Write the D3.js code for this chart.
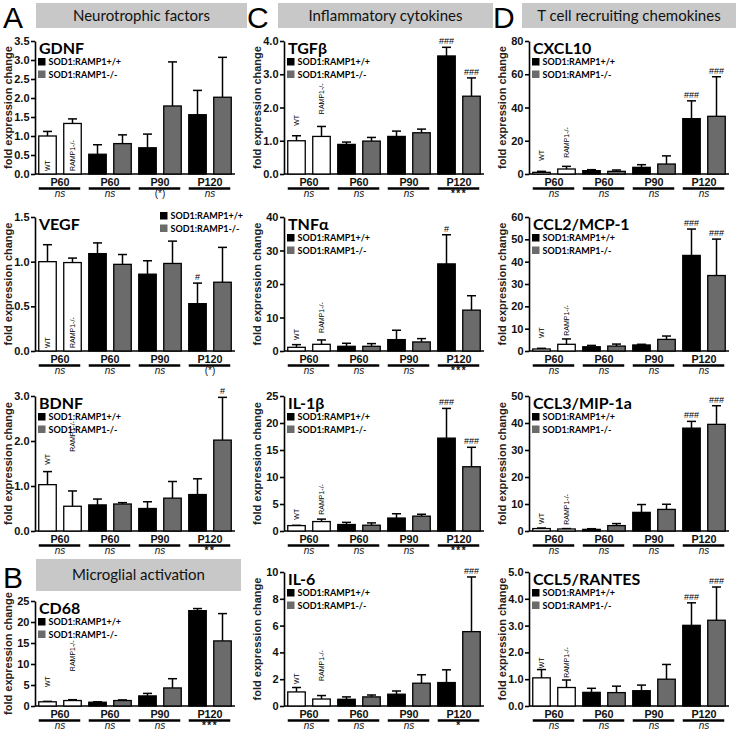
<!DOCTYPE html>
<html><head><meta charset="utf-8">
<script src="https://cdn.jsdelivr.net/npm/d3@7"></script>
<style>body{margin:0;background:#fff}svg{display:block}</style>
</head><body><svg id="c" width="738" height="730"></svg>
<script>
// ---------------- data ----------------
const barKinds = ["wt","wt","pos","neg","pos","neg","pos","neg"];
const groupLabels = ["P60","P60","P90","P120"];
const seriesNames = ["SOD1:RAMP1+/+","SOD1:RAMP1-/-"];
const ctrlNames = ["WT","RAMP1-/-"];
const headers = ["Neurotrophic factors","Microglial activation","Inflammatory cytokines","T cell recruiting chemokines"];
const panelLetters = ["A","B","C","D"];

const gdnfMean = [1.00,1.33,0.52,0.80,0.69,1.79,1.56,2.02];
const gdnfSem  = [0.12,0.12,0.25,0.23,0.36,1.16,0.64,1.05];
const gdnfHash = ["","","","","","","",""];
const gdnfSig  = ["ns","ns","(*)","ns"];

const vegfMean = [1.00,0.99,1.09,0.97,0.86,0.98,0.53,0.77];
const vegfSem  = [0.19,0.05,0.12,0.11,0.15,0.25,0.23,0.39];
const vegfHash = ["","","","","","","#",""];
const vegfSig  = ["ns","ns","ns","(*)"];

const bdnfMean = [1.03,0.55,0.58,0.60,0.50,0.73,0.81,2.02];
const bdnfSem  = [0.29,0.34,0.13,0.03,0.15,0.37,0.35,0.95];
const bdnfHash = ["","","","","","","","#"];
const bdnfSig  = ["ns","ns","ns","**"];

const cd68Mean = [1.0,1.3,0.9,1.3,2.4,4.3,22.7,15.5];
const cd68Sem  = [0.1,0.2,0.1,0.15,0.6,2.2,0.5,6.5];
const cd68Hash = ["","","","","","","",""];
const cd68Sig  = ["ns","ns","ns","***"];

const tgfbMean = [1.00,1.13,0.89,0.99,1.13,1.24,3.55,2.34];
const tgfbSem  = [0.15,0.30,0.07,0.11,0.16,0.11,0.26,0.55];
const tgfbHash = ["","","","","","","###","###"];
const tgfbSig  = ["ns","ns","ns","***"];

const tnfaMean = [1.1,2.0,1.4,1.4,3.4,2.7,26.0,12.2];
const tnfaSem  = [0.8,1.3,0.9,0.8,2.8,1.0,8.7,4.3];
const tnfaHash = ["","","","","","","#",""];
const tnfaSig  = ["ns","ns","ns","***"];

const il1bMean = [1.0,1.75,1.2,1.07,2.4,2.75,17.2,11.9];
const il1bSem  = [0.05,0.45,0.4,0.43,0.8,0.35,5.5,3.6];
const il1bHash = ["","","","","","","###","###"];
const il1bSig  = ["ns","ns","ns","***"];

const il6Mean = [1.05,0.52,0.50,0.68,0.88,1.70,1.75,5.55];
const il6Sem  = [0.33,0.26,0.18,0.14,0.24,0.63,0.95,4.08];
const il6Hash = ["","","","","","","","###"];
const il6Sig  = ["ns","ns","ns","*"];

const cxcl10Mean = [1.0,3.0,2.0,1.6,4.0,6.0,33.3,34.7];
const cxcl10Sem  = [0.6,1.6,0.6,0.8,1.6,4.9,10.7,23.8];
const cxcl10Hash = ["","","","","","","###","###"];
const cxcl10Sig  = ["ns","ns","ns","ns"];

const ccl2Mean = [0.9,3.0,1.9,2.2,2.7,5.2,42.8,33.8];
const ccl2Sem  = [0.3,2.4,0.6,0.9,0.3,1.5,11.8,16.3];
const ccl2Hash = ["","","","","","","###","###"];
const ccl2Sig  = ["ns","ns","ns","ns"];

const ccl3Mean = [0.9,0.75,0.6,2.0,6.9,8.0,38.1,39.5];
const ccl3Sem  = [0.2,0.15,0.25,0.75,2.9,1.9,2.5,6.9];
const ccl3Hash = ["","","","","","","###","###"];
const ccl3Sig  = ["ns","ns","ns","ns"];

const ccl5Mean = [1.05,0.69,0.51,0.50,0.57,1.00,3.01,3.20];
const ccl5Sem  = [0.31,0.28,0.15,0.24,0.21,0.55,0.84,1.24];
const ccl5Hash = ["","","","","","","###","###"];
const ccl5Sig  = ["ns","ns","ns","ns"];

// ---------------- layout ----------------
const svg = d3.select("#c");
const colAxis = [35, 284, 529];
const rows = [[41,174],[217,351],[396,531],[572,706]];
const fills = {wt:"#ffffff", pos:"#000000", neg:"#6b6b6b"};
const sansB = "'Liberation Sans', Arial, sans-serif";
const lato = "Lato, 'Open Sans', sans-serif";

const charts = [
 {title:"GDNF", mean:gdnfMean, sem:gdnfSem, hash:gdnfHash, sig:gdnfSig, max:3.5, step:0.5, fmt:".1f", col:0, row:rows[0], ctrl:null, legend:"left"},
 {title:"VEGF", mean:vegfMean, sem:vegfSem, hash:vegfHash, sig:vegfSig, max:1.5, step:0.5, fmt:".1f", col:0, row:rows[1], ctrl:null, legend:"right"},
 {title:"BDNF", mean:bdnfMean, sem:bdnfSem, hash:bdnfHash, sig:bdnfSig, max:3.0, step:1, fmt:".1f", col:0, row:rows[2], ctrl:[1.47,1.76], legend:"left"},
 {title:"CD68", mean:cd68Mean, sem:cd68Sem, hash:cd68Hash, sig:cd68Sig, max:25, step:5, fmt:"d", col:0, row:[601,706], ctrl:[4.5,8.3], legend:"left"},
 {title:"TGFβ", mean:tgfbMean, sem:tgfbSem, hash:tgfbHash, sig:tgfbSig, max:4, step:1, fmt:".1f", col:1, row:rows[0], ctrl:[1.45,1.8], legend:"left"},
 {title:"TNFα", mean:tnfaMean, sem:tnfaSem, hash:tnfaHash, sig:tnfaSig, max:40, step:10, fmt:"d", col:1, row:rows[1], ctrl:[3.3,5.4], legend:"left"},
 {title:"IL-1β", mean:il1bMean, sem:il1bSem, hash:il1bHash, sig:il1bSig, max:25, step:5, fmt:"d", col:1, row:rows[2], ctrl:[2.1,3.0], legend:"left"},
 {title:"IL-6", mean:il6Mean, sem:il6Sem, hash:il6Hash, sig:il6Sig, max:10, step:2, fmt:"d", col:1, row:rows[3], ctrl:[1.64,1.87], legend:"left"},
 {title:"CXCL10", mean:cxcl10Mean, sem:cxcl10Sem, hash:cxcl10Hash, sig:cxcl10Sig, max:80, step:20, fmt:"d", col:2, row:rows[0], ctrl:[7.9,9.7], legend:"left"},
 {title:"CCL2/MCP-1", mean:ccl2Mean, sem:ccl2Sem, hash:ccl2Hash, sig:ccl2Sig, max:60, step:10, fmt:"d", col:2, row:rows[1], ctrl:[5.8,6.8], legend:"left"},
 {title:"CCL3/MIP-1a", mean:ccl3Mean, sem:ccl3Sem, hash:ccl3Hash, sig:ccl3Sig, max:50, step:10, fmt:"d", col:2, row:rows[2], ctrl:[2.6,2.3], legend:"left"},
 {title:"CCL5/RANTES", mean:ccl5Mean, sem:ccl5Sem, hash:ccl5Hash, sig:ccl5Sig, max:5, step:1, fmt:".1f", col:2, row:rows[3], ctrl:[1.41,1.05], legend:"left"}
];

// headers
const headerBoxes = [[36,247,3,28],[36,241,559,591],[278,493,3,28],[522,736,3,28]];
const letterPos = [[3,28],[3,588],[247,28],[493,28]];
headerBoxes.forEach((b,i)=>{
  svg.append("rect").attr("x",b[0]).attr("y",b[2]).attr("width",b[1]-b[0]).attr("height",b[3]-b[2]).attr("fill","#c8c8c8");
  svg.append("text").attr("x",(b[0]+b[1])/2).attr("y",(b[2]+b[3])/2).attr("dy","0.35em")
    .attr("text-anchor","middle").attr("font-family",lato).attr("font-size",15).attr("fill","#111").text(headers[i]);
  svg.append("text").attr("x",letterPos[i][0]).attr("y",letterPos[i][1]).attr("font-family",sansB)
    .attr("font-size",30).attr("fill","#000").text(panelLetters[i]);
});

function drawChart(c){
  const ax = colAxis[c.col];
  const top = c.row[0], bot = c.row[1];
  const x = d3.scaleBand().domain(d3.range(8)).range([ax, ax+200]).paddingInner(0.3).paddingOuter(0.15);
  const y = d3.scaleLinear().domain([0,c.max]).range([bot, top]);
  const bw = x.bandwidth();
  const g = svg.append("g");

  // y axis label
  g.append("text").attr("transform",`translate(${ax-27},${(top+bot)/2}) rotate(-90)`).attr("dy","0.35em")
    .attr("text-anchor","middle").attr("font-family",sansB).attr("font-weight","bold").attr("font-size",11)
    .attr("fill","#222").text("fold expression change");

  // y axis
  const ticks = d3.range(0, c.max + c.step/2, c.step);
  const yAxis = d3.axisLeft(y).tickValues(ticks).tickFormat(d3.format(c.fmt)).tickSize(4).tickSizeOuter(0).tickPadding(1.5);
  const ag = g.append("g").attr("transform",`translate(${ax},0)`).call(yAxis);
  ag.select(".domain").attr("stroke","#000").attr("stroke-width",1.6);
  ag.selectAll(".tick line").attr("stroke","#000").attr("stroke-width",1.6);
  ag.selectAll(".tick text").attr("font-family",sansB).attr("font-weight","bold").attr("font-size",11).attr("fill","#111");

  // x baseline
  g.append("line").attr("x1",ax).attr("x2",ax+200).attr("y1",y(0)).attr("y2",y(0)).attr("stroke","#000").attr("stroke-width",1.6);

  // error bars
  c.mean.forEach((m,i)=>{
    const cx = x(i)+bw/2, yt = y(m + c.sem[i]);
    g.append("line").attr("x1",cx).attr("x2",cx).attr("y1",y(m)).attr("y2",yt).attr("stroke","#000").attr("stroke-width",1.5);
    g.append("line").attr("x1",cx-4.5).attr("x2",cx+4.5).attr("y1",yt).attr("y2",yt).attr("stroke","#000").attr("stroke-width",1.5);
    if (c.hash[i]) g.append("text").attr("x",cx).attr("y",yt-3).attr("text-anchor","middle")
       .attr("font-family",sansB).attr("font-size",9).attr("fill","#000").text(c.hash[i]);
  });
  // bars
  g.selectAll("rect.bar").data(c.mean).enter().append("rect")
    .attr("x",(d,i)=>x(i)).attr("width",bw).attr("y",d=>y(d)).attr("height",d=>y(0)-y(d))
    .attr("fill",(d,i)=>fills[barKinds[i]]).attr("stroke","#000").attr("stroke-width",1.3);

  // control labels
  [0,1].forEach(i=>{
    const cx = x(i)+bw/2;
    const yp = c.ctrl ? y(c.ctrl[i]) : y(0)-3;
    g.append("text").attr("transform",`translate(${cx},${yp}) rotate(-90)`).attr("dy","0.35em")
      .attr("font-family",sansB).attr("font-size",7).attr("fill","#000").text(ctrlNames[i]);
  });

  // title
  g.append("text").attr("x",ax+4).attr("y",top+12.5).attr("font-family",lato).attr("font-weight","bold")
    .attr("font-size",16).attr("fill","#000").text(c.title);

  // legend
  const lx = c.legend==="left" ? ax+3 : ax+125;
  const ly = c.legend==="left" ? top+17 : top-5;
  seriesNames.forEach((s,k)=>{
    g.append("rect").attr("x",lx).attr("y",ly+k*12.5).attr("width",7.5).attr("height",7.5).attr("fill",k?fills.neg:fills.pos);
    g.append("text").attr("x",lx+10.5).attr("y",ly+k*12.5+7).attr("font-family",lato).attr("font-weight","bold")
      .attr("font-size",9).attr("fill","#000").text(s);
  });

  // group labels
  groupLabels.forEach((gl,k)=>{
    const x0 = x(2*k), x1 = x(2*k+1)+bw;
    const cx = (x0+x1)/2;
    g.append("text").attr("x",cx).attr("y",y(0)+11.5).attr("text-anchor","middle").attr("font-family",sansB)
      .attr("font-weight","bold").attr("font-size",10.8).attr("fill","#111").text(gl);
    g.append("line").attr("x1",x0).attr("x2",x1-1).attr("y1",y(0)+14.5).attr("y2",y(0)+14.5).attr("stroke","#000").attr("stroke-width",2.5);
    const s = c.sig[k];
    const stars = s.indexOf("*")>=0 && s[0]!=="(";
    const t = g.append("text").attr("x",cx).attr("y",y(0)+(stars?23:22.5)).attr("text-anchor","middle").attr("font-family",sansB)
      .attr("font-size",10).attr("fill","#111").text(s);
    if (s==="ns") t.attr("font-style","italic");
    if (stars) t.attr("font-weight","bold").attr("letter-spacing",1.5);
  });
}
charts.forEach(drawChart);
</script></body></html>
